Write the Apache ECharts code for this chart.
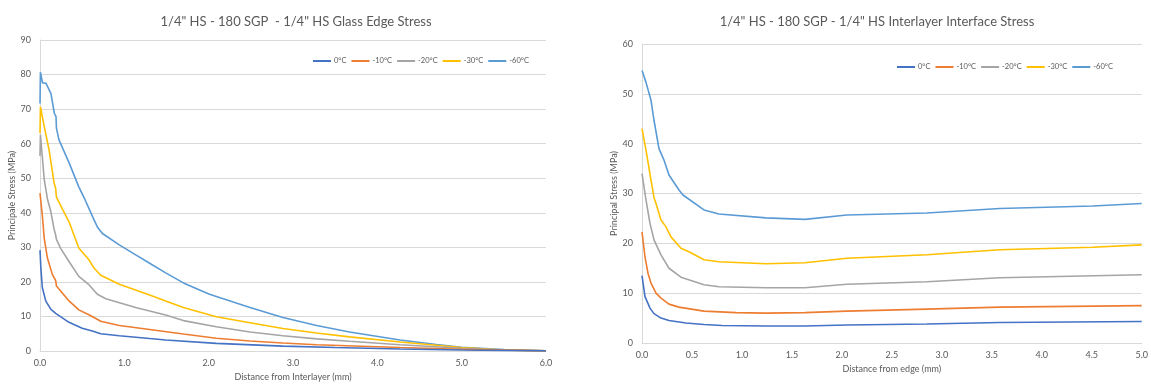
<!DOCTYPE html>
<html style="height: 100%">
<head>
  <meta charset="utf-8">
</head>
<body style="height: 100%; margin: 0; background: #fff">
  <div id="container" style="width: 1151px; height: 387px"></div>
  <script src="https://cdn.jsdelivr.net/npm/echarts@6/dist/echarts.min.js"></script>
  <script type="text/javascript">
    // legend names / colours (Excel default palette)
    var seriesNames = ['0°C', '-10°C', '-20°C', '-30°C', '-60°C'];
    var seriesColors = ['#4472C4', '#ED7D31', '#A5A5A5', '#FFC000', '#5B9BD5'];

    // left chart: glass edge stress, [distance mm, stress MPa]
    var edge0 = [[0, 29.2], [0.01, 24], [0.028, 18.3], [0.068, 14.5], [0.127, 12.1], [0.186, 10.9], [0.2, 10.6],
      [0.344, 8.3], [0.5, 6.6], [0.62, 5.8], [0.72, 5.0], [0.94, 4.4], [1.3, 3.6], [1.49, 3.2], [2.09, 2.2],
      [2.88, 1.4], [3.5, 1.0], [4.27, 0.6], [5.0, 0.3], [6.0, 0.05]];
    var edge10 = [[0, 45.7], [0.01, 45.9], [0.028, 39.2], [0.05, 32.6], [0.088, 26.9], [0.147, 22.1], [0.186, 20.4],
      [0.195, 18.8], [0.344, 14.5], [0.46, 11.9], [0.58, 10.5], [0.64, 9.7], [0.72, 8.6], [0.94, 7.4], [1.3, 6.2],
      [1.7, 4.9], [2.09, 3.7], [2.49, 2.9], [2.88, 2.3], [3.28, 1.8], [4.27, 1.0], [5.0, 0.5], [6.0, 0.05]];
    var edge20 = [[0, 56.4], [0.005, 62.6], [0.05, 49.7], [0.088, 44], [0.127, 40.5], [0.166, 35.4], [0.186, 33.5],
      [0.195, 32.3], [0.245, 29.7], [0.344, 25.9], [0.46, 21.6], [0.58, 19.2], [0.68, 16.4], [0.78, 15.1],
      [1.135, 12.6], [1.49, 10.4], [1.7, 8.8], [2.09, 7.0], [2.49, 5.5], [2.88, 4.4], [3.28, 3.5], [3.67, 2.8],
      [4.27, 1.8], [5.0, 0.8], [5.5, 0.3], [6.0, 0.05]];
    var edge30 = [[0, 63], [0.005, 70.7], [0.05, 65], [0.107, 58.3], [0.166, 48.8], [0.186, 47], [0.195, 44.5],
      [0.245, 42.1], [0.344, 37.4], [0.46, 29.8], [0.58, 26.4], [0.64, 24], [0.72, 21.9], [0.94, 19.3],
      [1.3, 16.2], [1.49, 14.5], [1.7, 12.6], [2.09, 9.9], [2.49, 8.2], [2.88, 6.5], [3.28, 5.2], [3.67, 4.1],
      [4.27, 2.6], [5.0, 1.0], [5.5, 0.3], [6.0, 0.05]];
    var edge60 = [[0, 71.6], [0.005, 80.7], [0.03, 77.6], [0.07, 77.5], [0.13, 74.5], [0.17, 68.8], [0.19, 67.8],
      [0.195, 64.5], [0.225, 61.1], [0.344, 54.5], [0.46, 47.5], [0.53, 44], [0.6, 40.2], [0.63, 38.5],
      [0.68, 35.9], [0.74, 34], [0.94, 30.7], [1.135, 27.8], [1.3, 25.4], [1.49, 22.6], [1.7, 19.7],
      [2.01, 16.4], [2.49, 12.6], [2.88, 9.7], [3.28, 7.4], [3.67, 5.5], [4.27, 3.2], [4.7, 1.9], [5.0, 1.1],
      [5.5, 0.4], [6.0, 0.05]];

    // right chart: interlayer interface stress, [distance mm, stress MPa]
    var intf0 = [[0, 13.5], [0.03, 9.3], [0.08, 7], [0.12, 5.9], [0.19, 5.0], [0.27, 4.5], [0.44, 4.0], [0.62, 3.7],
      [0.8, 3.5], [1.24, 3.4], [1.63, 3.4], [2.05, 3.6], [2.85, 3.8], [3.58, 4.1], [5.0, 4.3]];
    var intf10 = [[0, 22.3], [0.03, 17.3], [0.06, 14], [0.09, 12], [0.14, 10], [0.19, 9], [0.27, 7.8], [0.37, 7.2],
      [0.62, 6.4], [0.94, 6.1], [1.24, 6.0], [1.63, 6.1], [2.05, 6.4], [2.85, 6.8], [3.58, 7.2], [5.0, 7.5]];
    var intf20 = [[0, 34], [0.04, 28.7], [0.08, 24], [0.12, 20.7], [0.19, 17.7], [0.27, 15], [0.39, 13.2],
      [0.62, 11.7], [0.77, 11.3], [1.24, 11.1], [1.63, 11.1], [2.05, 11.8], [2.85, 12.3], [3.58, 13.1], [5.0, 13.7]];
    var intf30 = [[0, 43], [0.04, 38.7], [0.09, 32.7], [0.12, 29.2], [0.14, 28], [0.19, 24.7], [0.24, 23.3],
      [0.29, 21.3], [0.39, 19], [0.47, 18.3], [0.62, 16.7], [0.77, 16.3], [1.24, 15.9], [1.63, 16.1],
      [2.05, 17.0], [2.85, 17.7], [3.58, 18.7], [4.51, 19.2], [5.0, 19.7]];
    var intf60 = [[0, 54.7], [0.04, 52.3], [0.09, 48.7], [0.12, 44.7], [0.17, 39], [0.22, 36.7], [0.27, 33.7],
      [0.37, 30.7], [0.41, 29.7], [0.62, 26.7], [0.77, 25.9], [1.24, 25.1], [1.63, 24.8], [2.05, 25.7],
      [2.85, 26.1], [3.58, 27.0], [4.51, 27.5], [5.0, 28.0]];

    var edgeData = [edge0, edge10, edge20, edge30, edge60];
    var intfData = [intf0, intf10, intf20, intf30, intf60];

    var FONT = 'Lato';
    var textGrey = '#595959';
    var gridGrey = '#D9D9D9';

    function xAxisCfg(gridIndex, max, interval, name) {
      return {
        type: 'value', gridIndex: gridIndex, min: 0, max: max, interval: interval,
        name: name, nameLocation: 'middle', nameGap: 22,
        nameTextStyle: { color: textGrey, fontSize: 9, fontFamily: FONT },
        axisLine: { lineStyle: { color: gridGrey } },
        axisTick: { show: false },
        splitLine: { show: false },
        axisLabel: { color: textGrey, fontSize: 9, fontFamily: FONT, margin: 8,
          formatter: function (v) { return v.toFixed(1); } }
      };
    }

    function yAxisCfg(gridIndex, max, name, gap) {
      return {
        type: 'value', gridIndex: gridIndex, min: 0, max: max, interval: 10,
        name: name, nameLocation: 'middle', nameGap: gap,
        nameTextStyle: { color: textGrey, fontSize: 9, fontFamily: FONT },
        axisLine: { show: true, lineStyle: { color: gridGrey } },
        axisTick: { show: false },
        splitLine: { lineStyle: { color: gridGrey } },
        axisLabel: { color: textGrey, fontSize: 9, fontFamily: FONT, margin: 9 }
      };
    }

    function legendCfg(left, top) {
      return {
        left: left, top: top, itemWidth: 18, itemHeight: 2, itemGap: 5, icon: 'rect',
        data: seriesNames,
        textStyle: { color: textGrey, fontSize: 7.5, fontFamily: FONT, padding: [0, 0, 0, -2] }
      };
    }

    var series = [];
    seriesNames.forEach(function (n, i) {
      series.push({ name: n, type: 'line', xAxisIndex: 0, yAxisIndex: 0, data: edgeData[i],
        showSymbol: false, color: seriesColors[i], lineStyle: { width: 1.6 }, z: 10 - i });
    });
    seriesNames.forEach(function (n, i) {
      series.push({ name: n, type: 'line', xAxisIndex: 1, yAxisIndex: 1, data: intfData[i],
        showSymbol: false, color: seriesColors[i], lineStyle: { width: 1.6 }, z: 10 - i });
    });

    var myChart = echarts.init(document.getElementById('container'));
    var option = {
      animation: false,
      title: [
        { text: '1/4" HS - 180 SGP  - 1/4" HS Glass Edge Stress', left: 291, top: 10, textAlign: 'center',
          textStyle: { color: textGrey, fontSize: 13, fontWeight: 'normal', fontFamily: FONT } },
        { text: '1/4" HS - 180 SGP - 1/4" HS Interlayer Interface Stress', left: 872, top: 10, textAlign: 'center',
          textStyle: { color: textGrey, fontSize: 13, fontWeight: 'normal', fontFamily: FONT } }
      ],
      legend: [legendCfg(308, 52), legendCfg(892, 58)],
      grid: [
        { left: 40, right: 605, top: 40, bottom: 33 },
        { left: 642, right: 9, top: 44, bottom: 44 }
      ],
      xAxis: [
        xAxisCfg(0, 6, 1, 'Distance from Interlayer (mm)'),
        xAxisCfg(1, 5, 0.5, 'Distance from edge (mm)')
      ],
      yAxis: [
        yAxisCfg(0, 90, 'Principale Stress (MPa)', 23),
        yAxisCfg(1, 60, 'Principal Stress (MPa)', 22)
      ],
      series: series
    };
    myChart.setOption(option);
  </script>
</body>
</html>
